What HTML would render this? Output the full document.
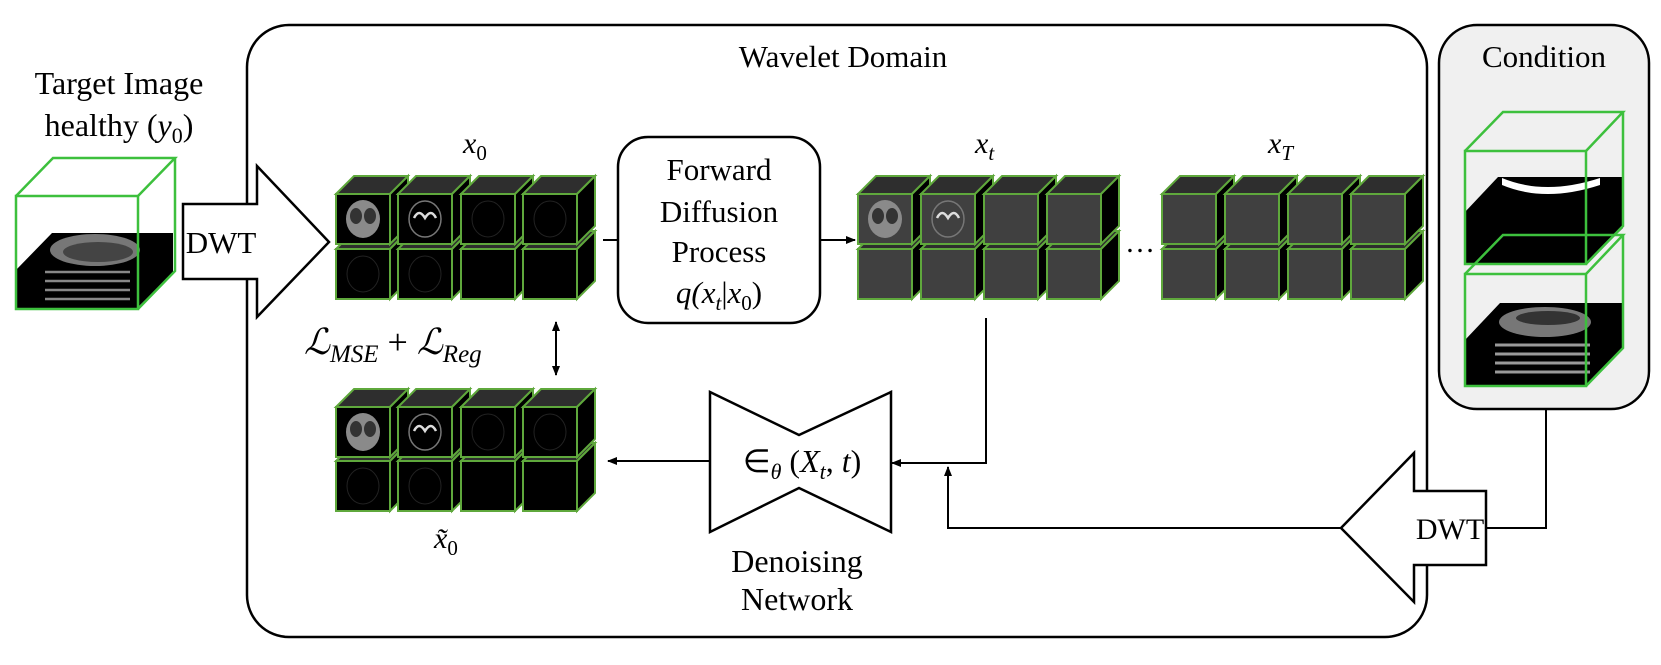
<!DOCTYPE html>
<html><head><meta charset="utf-8"><style>
html,body{margin:0;padding:0;background:#fff}
svg{display:block}
text{font-family:"Liberation Serif",serif;fill:#000}
.it{font-style:italic}
</style></head><body>
<svg width="1661" height="665" viewBox="0 0 1661 665" xmlns="http://www.w3.org/2000/svg">
<defs>
<marker id="ah" markerWidth="10" markerHeight="10" refX="9" refY="5" orient="auto" markerUnits="userSpaceOnUse">
<path d="M0,1 L10,5 L0,9 z" fill="#000"/></marker>
<marker id="ahs" markerWidth="10" markerHeight="10" refX="1" refY="5" orient="auto" markerUnits="userSpaceOnUse">
<path d="M10,1 L0,5 L10,9 z" fill="#000"/></marker>
<g id="cb">
<polygon points="0,0 18,-18 72,-18 54,0" fill="#2e2e2e" stroke="#5fa83c" stroke-width="2"/>
<polygon points="54,0 72,-18 72,32 54,50" fill="#000" stroke="#5fa83c" stroke-width="2"/>
<rect x="0" y="0" width="54" height="50" fill="#000" stroke="#5fa83c" stroke-width="2"/>
</g>
<g id="cn">
<polygon points="0,0 18,-18 72,-18 54,0" fill="#2e2e2e" stroke="#5fa83c" stroke-width="2"/>
<polygon points="54,0 72,-18 72,32 54,50" fill="#000" stroke="#5fa83c" stroke-width="2"/>
<rect x="0" y="0" width="54" height="50" fill="#404040" stroke="#5fa83c" stroke-width="2"/>
</g>
<g id="b1"><ellipse cx="27" cy="25" rx="17" ry="19" fill="#8a8a8a"/><ellipse cx="20" cy="22" rx="6" ry="8" fill="#333"/><ellipse cx="34" cy="22" rx="6" ry="8" fill="#333"/></g>
<g id="b2"><ellipse cx="27" cy="25" rx="16" ry="18" fill="none" stroke="#777" stroke-width="1.5"/><path d="M16,24 q5,-10 11,0 q6,-10 11,0" fill="none" stroke="#ddd" stroke-width="2.5"/></g>
<g id="b3"><ellipse cx="27" cy="25" rx="16" ry="18" fill="none" stroke="#222" stroke-width="1"/></g>
</defs>

<rect x="247" y="25" width="1180" height="612" rx="42" fill="none" stroke="#000" stroke-width="2.5"/>
<text x="843" y="67" font-size="31" text-anchor="middle">Wavelet Domain</text>

<rect x="1439" y="25" width="210" height="384" rx="38" fill="#f0f0f0" stroke="#000" stroke-width="2.5"/>
<text x="1544" y="67" font-size="31" text-anchor="middle">Condition</text>

<text x="119" y="94" font-size="32" text-anchor="middle">Target Image</text>
<text x="119" y="136" font-size="32" text-anchor="middle">healthy (<tspan class="it">y</tspan><tspan font-size="22" dy="7">0</tspan><tspan dy="-7">)</tspan></text>

<polygon points="52,233 173,233 173,273 137,308 16,308 16,270" fill="#000"/>
<ellipse cx="95" cy="250" rx="45" ry="16" fill="#777"/>
<ellipse cx="98" cy="252" rx="35" ry="10" fill="#444"/>
<g stroke="#888" stroke-width="2.5"><line x1="45" y1="272" x2="130" y2="272"/><line x1="45" y1="281" x2="130" y2="281"/><line x1="45" y1="290" x2="130" y2="290"/><line x1="45" y1="299" x2="130" y2="299"/></g>
<g fill="none" stroke="#3dc03d" stroke-width="2.5">
<rect x="16" y="196" width="122" height="113"/>
<polyline points="16,196 53,158 175,158 138,196"/>
<polyline points="175,158 175,271 138,309"/>
</g>

<polygon points="183,204 257,204 257,166 329,242 257,317 257,279 183,279" fill="#fff" stroke="#000" stroke-width="2.5"/>
<text x="221" y="253" font-size="31" text-anchor="middle">DWT</text>

<text x="463" y="153" font-size="30" class="it">x<tspan font-size="21" font-style="normal" dy="7">0</tspan></text>

<use href="#cb" x="336" y="249"/><use href="#cb" x="398" y="249"/><use href="#cb" x="461" y="249"/><use href="#cb" x="523" y="249"/>
<use href="#cb" x="336" y="194"/><use href="#cb" x="398" y="194"/><use href="#cb" x="461" y="194"/><use href="#cb" x="523" y="194"/>
<use href="#b1" x="336" y="194"/><use href="#b2" x="398" y="194"/><use href="#b3" x="461" y="194"/><use href="#b3" x="523" y="194"/>
<use href="#b3" x="336" y="249"/><use href="#b3" x="398" y="249"/>

<line x1="603" y1="240" x2="619" y2="240" stroke="#000" stroke-width="2"/>
<rect x="618" y="137" width="202" height="186" rx="30" fill="#fff" stroke="#000" stroke-width="2.5"/>
<text x="719" y="180" font-size="31" text-anchor="middle">Forward</text>
<text x="719" y="222" font-size="31" text-anchor="middle">Diffusion</text>
<text x="719" y="262" font-size="31" text-anchor="middle">Process</text>
<text x="719" y="303" font-size="31" text-anchor="middle" class="it">q(x<tspan font-size="21" dy="7">t</tspan><tspan dy="-7" font-style="normal">|</tspan>x<tspan font-size="21" font-style="normal" dy="7">0</tspan><tspan dy="-7" font-style="normal">)</tspan></text>
<line x1="820" y1="240" x2="855" y2="240" stroke="#000" stroke-width="2" marker-end="url(#ah)"/>

<text x="975" y="153" font-size="30" class="it">x<tspan font-size="21" dy="7">t</tspan></text>
<use href="#cn" x="858" y="249"/><use href="#cn" x="921" y="249"/><use href="#cn" x="984" y="249"/><use href="#cn" x="1047" y="249"/>
<use href="#cn" x="858" y="194"/><use href="#cn" x="921" y="194"/><use href="#cn" x="984" y="194"/><use href="#cn" x="1047" y="194"/>
<use href="#b1" x="858" y="194"/><use href="#b2" x="921" y="194"/>
<text x="1140" y="252" font-size="30" text-anchor="middle">…</text>

<text x="1268" y="153" font-size="30" class="it">x<tspan font-size="21" dy="7">T</tspan></text>
<use href="#cn" x="1162" y="249"/><use href="#cn" x="1225" y="249"/><use href="#cn" x="1288" y="249"/><use href="#cn" x="1351" y="249"/>
<use href="#cn" x="1162" y="194"/><use href="#cn" x="1225" y="194"/><use href="#cn" x="1288" y="194"/><use href="#cn" x="1351" y="194"/>

<text x="304" y="354" font-size="36" class="it">ℒ<tspan font-size="25" dy="8">MSE</tspan><tspan dy="-8" font-style="normal">  +  </tspan>ℒ<tspan font-size="25" dy="8">Reg</tspan></text>
<line x1="556" y1="322" x2="556" y2="375" stroke="#000" stroke-width="2" marker-start="url(#ahs)" marker-end="url(#ah)"/>

<use href="#cb" x="336" y="461"/><use href="#cb" x="398" y="461"/><use href="#cb" x="461" y="461"/><use href="#cb" x="523" y="461"/>
<use href="#cb" x="336" y="407"/><use href="#cb" x="398" y="407"/><use href="#cb" x="461" y="407"/><use href="#cb" x="523" y="407"/>
<use href="#b1" x="336" y="407"/><use href="#b2" x="398" y="407"/><use href="#b3" x="461" y="407"/><use href="#b3" x="523" y="407"/>
<use href="#b3" x="336" y="461"/><use href="#b3" x="398" y="461"/>
<text x="434" y="548" font-size="30" class="it">x̃<tspan font-size="21" font-style="normal" dy="7">0</tspan></text>

<line x1="709" y1="461" x2="608" y2="461" stroke="#000" stroke-width="2" marker-end="url(#ah)"/>
<polygon points="710,392 799,435 891,392 891,532 799,488 710,532" fill="#fff" stroke="#000" stroke-width="2.5"/>
<text x="802" y="472" font-size="32" text-anchor="middle" class="it"><tspan font-style="normal">∈</tspan><tspan font-size="22" dy="7">θ</tspan><tspan dy="-7" font-style="normal">  (</tspan>X<tspan font-size="22" dy="7">t</tspan><tspan dy="-7" font-style="normal">, </tspan>t<tspan font-style="normal">)</tspan></text>
<text x="797" y="572" font-size="32" text-anchor="middle">Denoising</text>
<text x="797" y="610" font-size="32" text-anchor="middle">Network</text>

<polyline points="986,318 986,463 892,463" fill="none" stroke="#000" stroke-width="2" marker-end="url(#ah)"/>
<polyline points="1341,528 948,528 948,467" fill="none" stroke="#000" stroke-width="2" marker-end="url(#ah)"/>
<polyline points="1546,409 1546,528 1486,528" fill="none" stroke="#000" stroke-width="2"/>

<polygon points="1486,491 1414,491 1414,453 1341,528 1414,602 1414,565 1486,565" fill="#fff" stroke="#000" stroke-width="2.5"/>
<text x="1450" y="539" font-size="30" text-anchor="middle">DWT</text>

<!-- condition top cube slab -->
<polygon points="1498,177 1623,177 1623,228 1586,264 1465,264 1465,212" fill="#000"/>
<path d="M1502,178 Q1545,196 1600,178 L1600,185 Q1545,203 1502,185z" fill="#fff"/>
<!-- bottom slab -->
<polygon points="1500,303 1623,303 1623,348 1586,386 1465,386 1465,340" fill="#000"/>
<ellipse cx="1545" cy="322" rx="46" ry="15" fill="#777"/>
<ellipse cx="1548" cy="318" rx="32" ry="7" fill="#333"/>
<g stroke="#999" stroke-width="3"><line x1="1495" y1="345" x2="1590" y2="345"/><line x1="1495" y1="354" x2="1590" y2="354"/><line x1="1495" y1="363" x2="1590" y2="363"/><line x1="1495" y1="372" x2="1590" y2="372"/></g>
<g fill="none" stroke="#3dc03d" stroke-width="2.5">
<rect x="1465" y="151" width="121" height="113"/>
<polyline points="1465,151 1503,112 1623,112 1586,151"/>
<polyline points="1623,112 1623,226 1586,264"/>
<rect x="1465" y="274" width="121" height="112"/>
<polyline points="1465,274 1503,235 1623,235 1586,274"/>
<polyline points="1623,235 1623,348 1586,386"/>
</g>
</svg>
</body></html>
